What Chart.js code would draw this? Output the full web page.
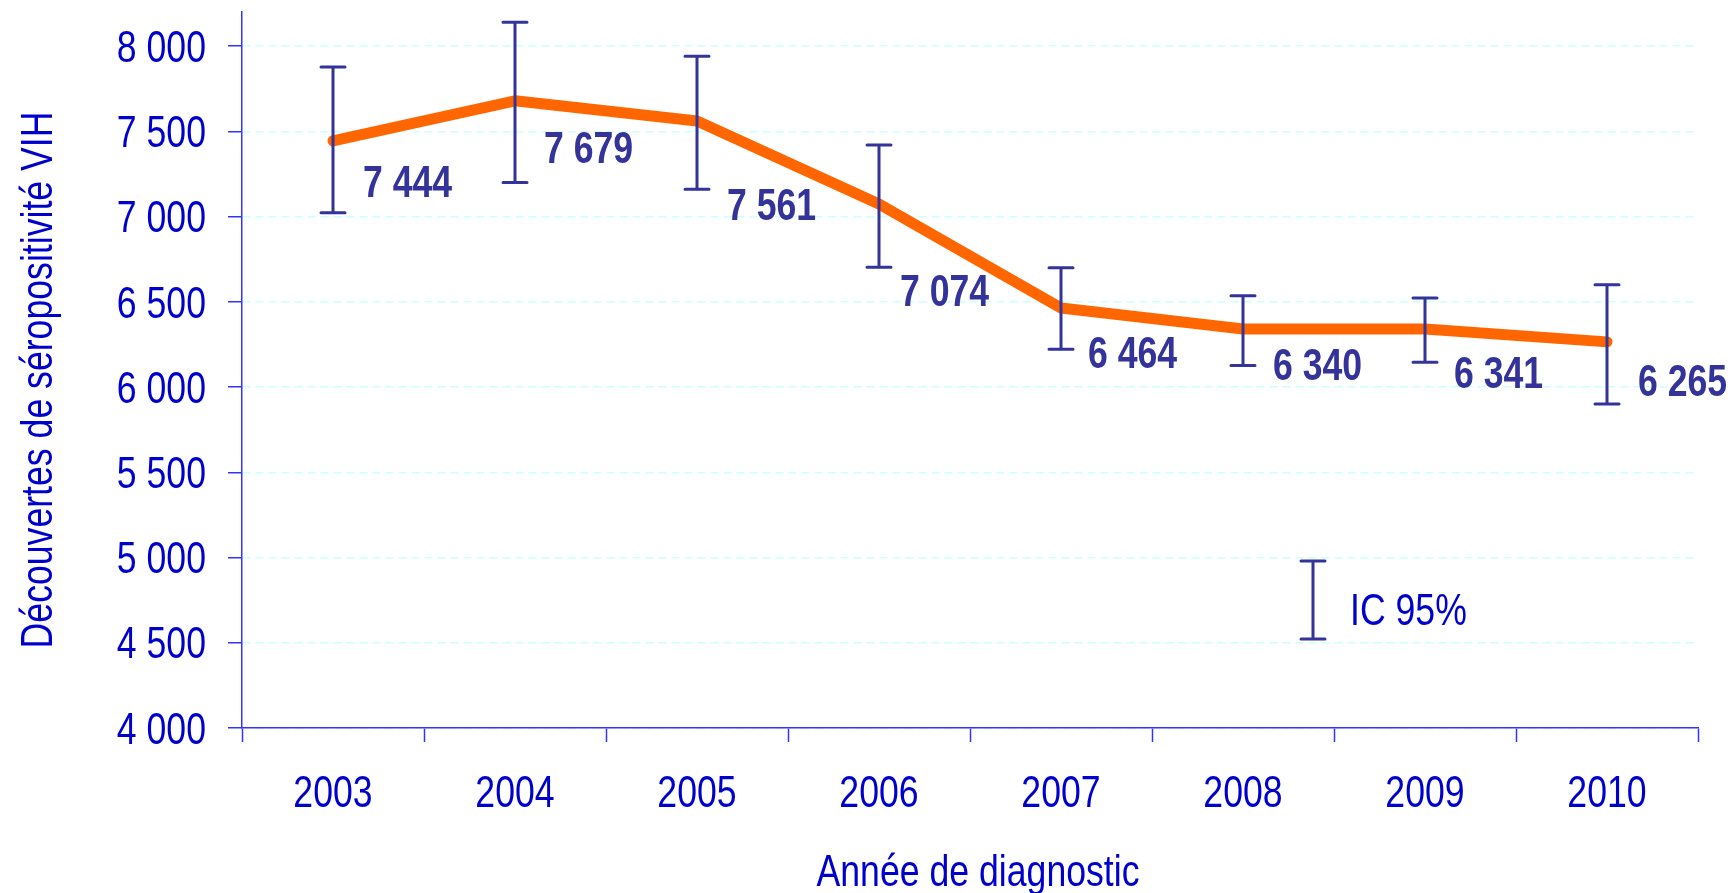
<!DOCTYPE html>
<html>
<head>
<meta charset="utf-8">
<script src="https://cdn.jsdelivr.net/npm/chart.js@4/dist/chart.umd.min.js"></script>
<style>
  html, body { margin: 0; padding: 0; background: #ffffff; }
  #chart { display: block; }
</style>
</head>
<body>
<canvas id="chart" width="1733" height="893"></canvas>
<script>
// valeurs
var annees = ['2003', '2004', '2005', '2006', '2007', '2008', '2009', '2010'];
var decouvertes = [7444, 7679, 7561, 7074, 6464, 6340, 6341, 6265];
var ic_bas = [7022, 7200, 7160, 6702, 6222, 6126, 6145, 5900];
var ic_haut = [7878, 8140, 7940, 7420, 6700, 6535, 6522, 6600];
var y_ticks = [4000, 4500, 5000, 5500, 6000, 6500, 7000, 7500, 8000];
var y_min = 4000, y_max = 8200;
var titre_x = 'Année de diagnostic';
var titre_y = 'Découvertes de séropositivité VIH';

// placement des etiquettes (px, depuis le point), place a la main comme dans l'original
var decalage_etiquettes = [[30, 40], [29, 46], [30, 83], [21, 86], [27, 44], [30, 35], [29, 43], [31, 38]];

// pas de police etroite installee : Liberation Sans compressee a la main
var police = '"Liberation Sans", Arial, sans-serif';
var etroit = 0.81;
var bleu_texte = '#0000cc';
var bleu_barre = '#333399';
var bleu_axe = '#3333ff';

function format_nombre(v) {
    return String(v).replace(/\B(?=(\d{3})+(?!\d))/g, ' ');
}

// texte a 44px, centre vertical des chiffres sur y
function texte(ctx, txt, x, y, align, rot) {
    ctx.save();
    ctx.translate(x, y);
    if (rot) ctx.rotate(rot);
    ctx.scale(etroit, 1);
    ctx.textAlign = align;
    ctx.textBaseline = 'alphabetic';
    ctx.fillText(txt, 0, 15.7);
    ctx.restore();
}

var errorbars_plugin = {
    id: 'errorbars',
    afterDatasetsDraw: function(chart) {
        var ctx = chart.ctx;
        var x = chart.scales.x, y = chart.scales.y;
        ctx.save();
        ctx.strokeStyle = bleu_barre;
        ctx.lineWidth = 3;
        ctx.lineCap = 'round';
        for (var i = 0; i < annees.length; i++) {
            var px = x.getPixelForValue(i);
            var y1 = y.getPixelForValue(ic_bas[i]);
            var y2 = y.getPixelForValue(ic_haut[i]);
            ctx.beginPath();
            ctx.moveTo(px, y1); ctx.lineTo(px, y2);
            ctx.moveTo(px - 12, y1); ctx.lineTo(px + 12, y1);
            ctx.moveTo(px - 12, y2); ctx.lineTo(px + 12, y2);
            ctx.stroke();
        }
        // etiquettes de valeurs
        ctx.fillStyle = bleu_barre;
        ctx.font = 'bold 44px ' + police;
        for (var j = 0; j < annees.length; j++) {
            var lx = x.getPixelForValue(j);
            var ly = y.getPixelForValue(decouvertes[j]);
            var d = decalage_etiquettes[j];
            texte(ctx, format_nombre(decouvertes[j]), lx + d[0], ly + d[1], 'left');
        }
        // legende IC 95%
        var a = chart.chartArea;
        var lgx = a.left + 1071, lgt = a.top + 549, lgb = a.top + 627;
        ctx.beginPath();
        ctx.moveTo(lgx, lgt); ctx.lineTo(lgx, lgb);
        ctx.moveTo(lgx - 12, lgt); ctx.lineTo(lgx + 12, lgt);
        ctx.moveTo(lgx - 12, lgb); ctx.lineTo(lgx + 12, lgb);
        ctx.stroke();
        ctx.fillStyle = bleu_texte;
        ctx.font = '44px ' + police;
        texte(ctx, 'IC 95%', lgx + 37, (lgt + lgb) / 2 + 9, 'left');
        ctx.restore();
    }
};

// graduations et titres des axes
var axes_texte_plugin = {
    id: 'axes_texte',
    afterDraw: function(chart) {
        var ctx = chart.ctx;
        var x = chart.scales.x, y = chart.scales.y;
        ctx.save();
        ctx.fillStyle = bleu_texte;
        ctx.font = '44px ' + police;
        y.ticks.forEach(function(t) {
            texte(ctx, format_nombre(t.value), y.right - 36, y.getPixelForValue(t.value), 'right');
        });
        annees.forEach(function(lab, i) {
            texte(ctx, lab, x.getPixelForValue(i), x.top + 63, 'center');
        });
        texte(ctx, titre_x, (x.left + x.right) / 2 + 8, 870, 'center');
        texte(ctx, titre_y, 36, (y.top + y.bottom) / 2 + 10, 'center', -Math.PI / 2);
        ctx.restore();
    }
};

var chart_data = {
    labels: annees,
    datasets: [{
        data: decouvertes,
        borderColor: '#ff6600',
        backgroundColor: '#ff6600',
        borderWidth: 11,
        borderCapStyle: 'round',
        borderJoinStyle: 'round',
        pointRadius: 0,
        tension: 0,
        fill: false
    }]
};

var chart_options = {
    responsive: false,
    animation: false,
    devicePixelRatio: 1,
    layout: { padding: { top: 12, right: 35, left: 0, bottom: 0 } },
    plugins: {
        legend: { display: false },
        tooltip: { enabled: false }
    },
    scales: {
        x: {
            offset: true,
            grid: {
                offset: true,
                drawOnChartArea: false,
                drawTicks: true,
                tickLength: 14,
                tickColor: bleu_axe,
                tickWidth: 1.5
            },
            border: { color: bleu_axe, width: 1.5 },
            ticks: { display: false },
            afterFit: function(scale) { scale.height = 165; }
        },
        y: {
            min: y_min,
            max: y_max,
            grid: {
                color: '#ccffff',
                lineWidth: 1.5,
                drawTicks: true,
                tickLength: 14,
                tickColor: bleu_axe,
                tickWidth: 1.5
            },
            border: { color: bleu_axe, width: 1.5, dash: [8, 5] },
            ticks: { display: false },
            afterBuildTicks: function(scale) {
                scale.ticks = y_ticks.map(function(v) { return { value: v }; });
            },
            afterFit: function(scale) { scale.width = 242; }
        }
    }
};

new Chart(document.getElementById('chart'), {
    type: 'line',
    data: chart_data,
    options: chart_options,
    plugins: [errorbars_plugin, axes_texte_plugin]
});
</script>
</body>
</html>
